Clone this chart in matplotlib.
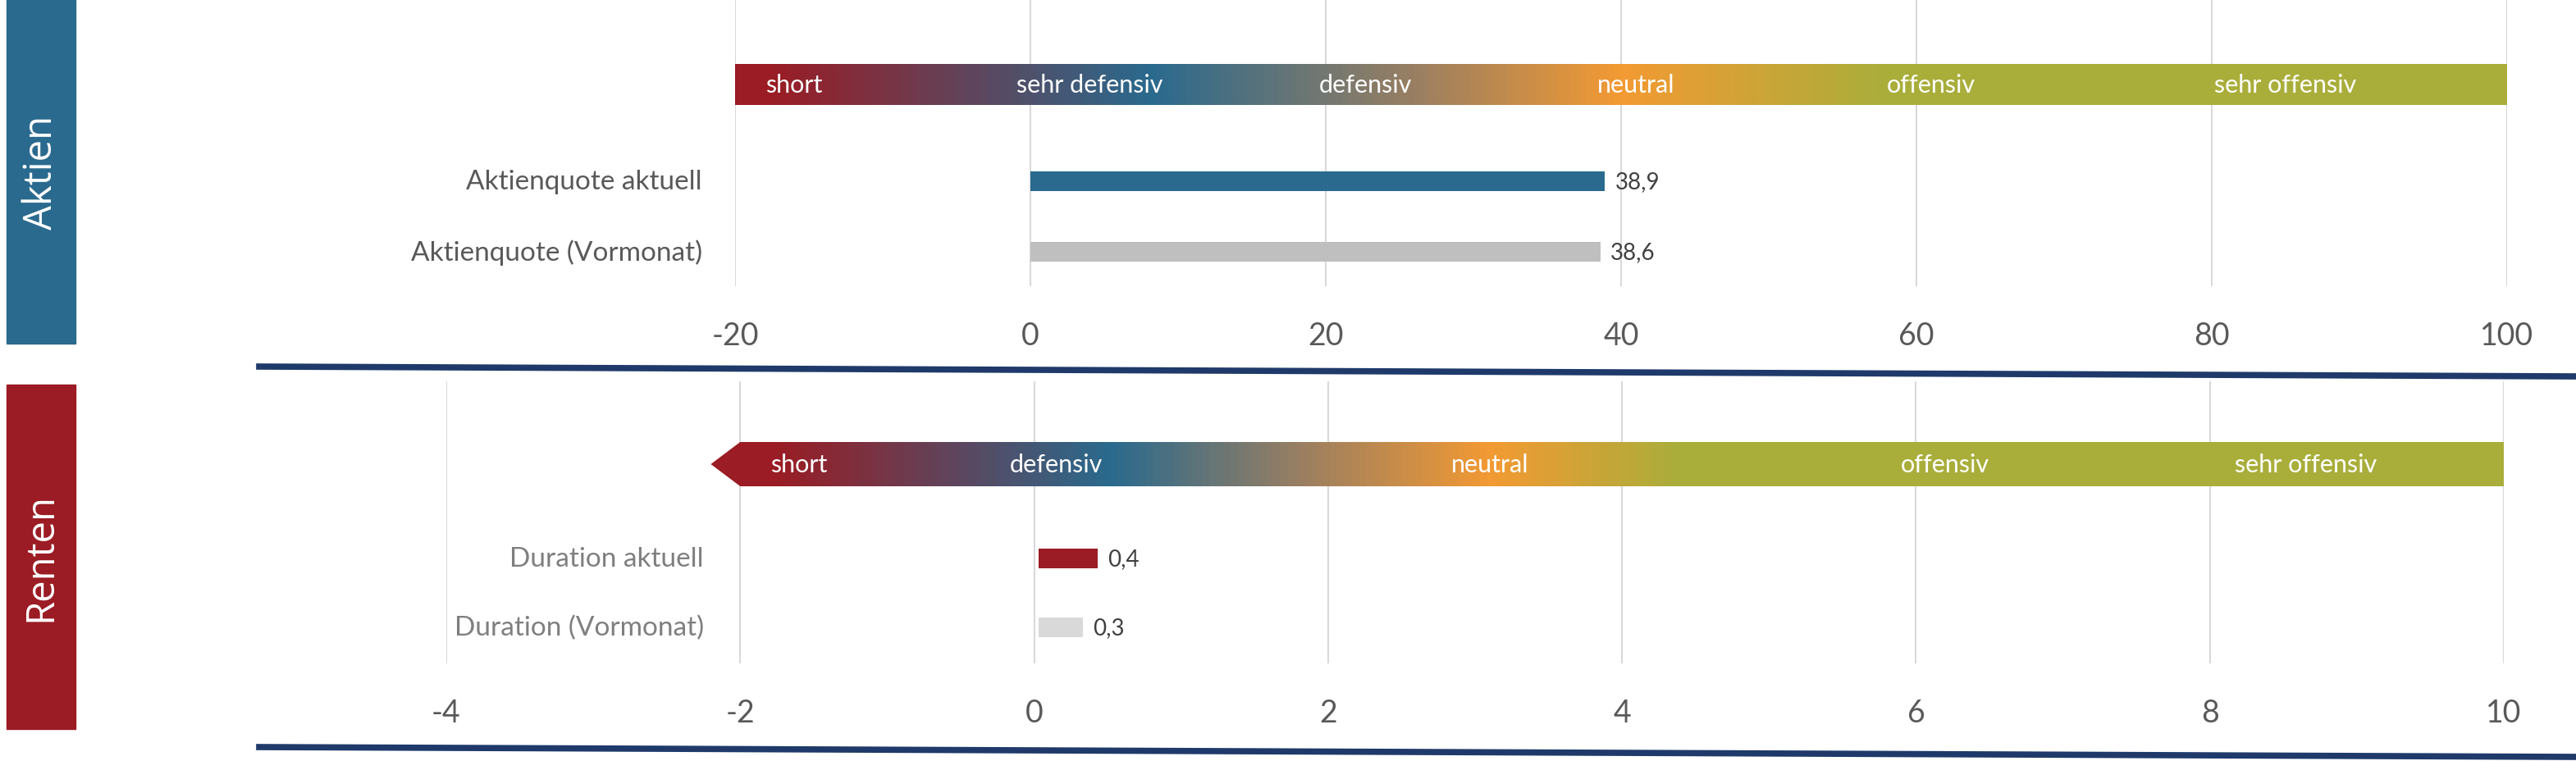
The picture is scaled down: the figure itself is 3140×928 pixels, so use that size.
import numpy as np
import matplotlib
matplotlib.use("Agg")
import matplotlib.pyplot as plt
from matplotlib.colors import LinearSegmentedColormap
from matplotlib.patches import Polygon, Rectangle
from matplotlib.lines import Line2D

plt.rcParams['font.family'] = ['Lato', 'DejaVu Sans']

# ---- data ----
akt_labels = ["Aktienquote aktuell", "Aktienquote (Vormonat)"]
akt_values = [38.9, 38.6]
akt_zones = ["short", "sehr defensiv", "defensiv", "neutral", "offensiv", "sehr offensiv"]
akt_zone_x = [-16, 4, 22.7, 41, 61, 85]
akt_ticks = [-20, 0, 20, 40, 60, 80, 100]

ren_labels = ["Duration aktuell", "Duration (Vormonat)"]
ren_values = [0.4, 0.3]
ren_zones = ["short", "defensiv", "neutral", "offensiv", "sehr offensiv"]
ren_zone_x = [-1.6, 0.15, 3.1, 6.2, 8.65]
ren_ticks = [-4, -2, 0, 2, 4, 6, 8, 10]

RED = "#9B1C24"; BLUE = "#2A6A8E"; ORANGE = "#F39A33"; OLIVE = "#A9AE3B"
GREY_T = "#595959"

W, H = 3140, 929
fig = plt.figure(figsize=(W/100, H/100), dpi=100)

def fx(p): return p / W
def fy(p): return 1 - p / H

def gradient_arrow(ax, x0, x1, tip, yc, hh, stops, lo, hi):
    pts = [(0.0, stops[0][1])] + [((s - lo) / (hi - lo), c) for s, c in stops] + [(1.0, stops[-1][1])]
    cmap = LinearSegmentedColormap.from_list("g", pts)
    grad = np.linspace(0, 1, 512).reshape(1, -1)
    im = ax.imshow(grad, extent=[lo, hi, yc + hh, yc - hh], aspect='auto',
                   cmap=cmap, zorder=2, interpolation='bilinear')
    poly = Polygon([[x0, yc - hh], [x1, yc - hh], [x1 + tip, yc], [x1, yc + hh],
                    [x0, yc + hh], [x0 - tip, yc]], closed=True,
                   transform=ax.transData, facecolor='none', edgecolor='none')
    ax.add_patch(poly)
    im.set_clip_path(poly)

def style(ax, ticks, xlim, ylim):
    ax.set_xlim(*xlim); ax.set_ylim(*ylim)
    for s in ax.spines.values(): s.set_visible(False)
    ax.set_xticks(ticks)
    ax.set_xticklabels([str(t) for t in ticks])
    ax.tick_params(axis='x', length=0, pad=30, labelsize=27, labelcolor=GREY_T)
    ax.set_yticks([])
    for t in ticks:
        ax.axvline(t, color="#D9D9D9", lw=1.5, zorder=0)

# ---- Aktien panel ----
ax1 = fig.add_axes([fx(896), fy(350), fx(3056 - 896), 350 / H])
ax1.patch.set_alpha(0)
style(ax1, akt_ticks, (-20, 100), (350, 0))
gradient_arrow(ax1, -20, 100, 2.0, 104, 25,
               [(-18, RED), (8, BLUE), (26, "#9A7F62"), (40, ORANGE), (58, OLIVE)],
               -22, 102)
for lab, x in zip(akt_zones, akt_zone_x):
    ax1.text(x, 104, lab, color='white', fontsize=22, ha='center', va='center', zorder=3)
ypos1 = [222, 308]
cols1 = [BLUE, "#BFBFBF"]
ax1.barh(ypos1, akt_values, height=24, color=cols1, zorder=2)
for y, v, lab in zip(ypos1, akt_values, akt_labels):
    ax1.annotate(lab, (-20, y), xytext=(-29, 0), textcoords='offset points',
                 ha='right', va='center', fontsize=24, color=GREY_T, annotation_clip=False)
    ax1.annotate(f"{v:.1f}".replace('.', ','), (v, y), xytext=(9, 0),
                 textcoords='offset points', ha='left', va='center', fontsize=20, color="#404040")
ax1.set_xlim(-20, 100); ax1.set_ylim(350, 0)

# ---- Renten panel ----
ax2 = fig.add_axes([fx(544), fy(810), fx(3052 - 544), 344 / H])
ax2.patch.set_alpha(0)
style(ax2, ren_ticks, (-4, 10), (344, 0))
gradient_arrow(ax2, -2, 10, 0.2, 101, 27,
               [(-1.8, RED), (0.5, BLUE), (1.8, "#9A7F62"), (3.1, ORANGE), (4.4, OLIVE)],
               -2.2, 10.2)
for lab, x in zip(ren_zones, ren_zone_x):
    ax2.text(x, 101, lab, color='white', fontsize=22, ha='center', va='center', zorder=3)
ypos2 = [216, 300]
cols2 = [RED, "#D9D9D9"]
ax2.barh(ypos2, ren_values, height=24, left=0.03, color=cols2, zorder=2)
for y, v, lab in zip(ypos2, ren_values, ren_labels):
    ax2.annotate(lab, (-2, y), xytext=(-32, 0), textcoords='offset points',
                 ha='right', va='center', fontsize=24, color="#7F7F7F")
    ax2.annotate(f"{v:.1f}".replace('.', ','), (v + 0.03, y), xytext=(9, 0),
                 textcoords='offset points', ha='left', va='center', fontsize=20, color="#404040")
ax2.set_xlim(-4, 10); ax2.set_ylim(344, 0)

# ---- decorations ----
fig.add_artist(Line2D([fx(316), 1], [fy(448), fy(460)], color="#1F3A6A", lw=5.5))
fig.add_artist(Line2D([fx(316), 1], [fy(912), fy(924)], color="#1F3A6A", lw=5.5))
fig.add_artist(Rectangle((fx(8), fy(420)), fx(84), 420 / H, color=BLUE, transform=fig.transFigure))
fig.add_artist(Rectangle((fx(8), fy(890)), fx(84), 420 / H, color=RED, transform=fig.transFigure))
fig.text(fx(50), fy(210), "Aktien", rotation=90, color='white', fontsize=34,
         ha='center', va='center', family=['Open Sans', 'DejaVu Sans'])
fig.text(fx(50), fy(680), "Renten", rotation=90, color='white', fontsize=34,
         ha='center', va='center', family=['Open Sans', 'DejaVu Sans'])

fig.savefig("out.png", dpi=100)
